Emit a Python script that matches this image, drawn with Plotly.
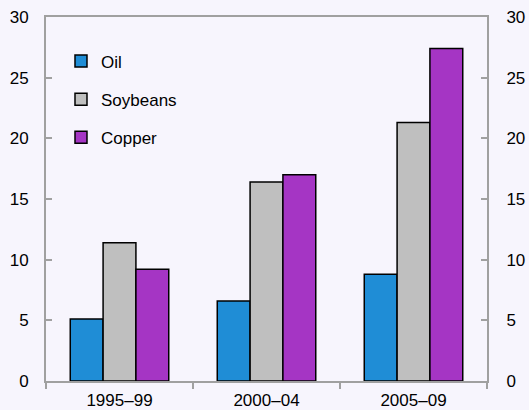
import plotly.graph_objects as go

periods = ["1995–99", "2000–04", "2005–09"]
oil = [5.1, 6.6, 8.8]
soybeans = [11.4, 16.4, 21.3]
copper = [9.2, 17.0, 27.4]

series = [("Oil", oil, "#1f8dd6"), ("Soybeans", soybeans, "#bfbfbf"), ("Copper", copper, "#a535c4")]

fig = go.Figure()
for name, vals, color in series:
    fig.add_trace(go.Bar(
        x=periods, y=vals, name=name, legendgroup=name,
        marker=dict(color=color, line=dict(color="black", width=1.5)),
    ))

# dummy trace so the right-hand axis is drawn
fig.add_trace(go.Scatter(x=periods, y=[None] * 3, yaxis="y2", showlegend=False, hoverinfo="skip"))

axis_col = "#a0a0a0"
fig.update_layout(
    width=529, height=410,
    margin=dict(l=46, r=42, t=17, b=29),
    paper_bgcolor="#f7f5fd", plot_bgcolor="#f7f5fd",
    font=dict(family="Liberation Sans, Arial", size=17, color="black"),
    barmode="group", bargap=0.33, bargroupgap=0,
    showlegend=True,
    legend=dict(x=0.034, y=0.927, xanchor="left", yanchor="top", bgcolor="rgba(0,0,0,0)",
                tracegroupgap=13, itemwidth=30, font=dict(size=17)),
    xaxis=dict(showline=True, linecolor=axis_col, linewidth=2, ticks="outside", tickson="boundaries",
               ticklen=6, tickcolor=axis_col, tickwidth=2, mirror=True, showgrid=False, automargin=False,
               ticklabelstandoff=3),
    yaxis=dict(range=[0, 30], dtick=5, showline=True, linecolor=axis_col, linewidth=2, ticks="inside",
               ticklen=6, tickcolor=axis_col, tickwidth=2, showgrid=False, zeroline=False, automargin=False,
               ticklabelstandoff=12),
    yaxis2=dict(range=[0, 30], dtick=5, overlaying="y", side="right", showline=True, linecolor=axis_col,
                linewidth=2, ticks="inside", ticklen=6, tickcolor=axis_col, tickwidth=2,
                showgrid=False, zeroline=False, automargin=False, ticklabelstandoff=14),
)

# drop the default page margin so the figure sits at the window's corner
fig.write_html("out.html", config={"displayModeBar": False},
               post_script="document.body.style.margin='0';")
